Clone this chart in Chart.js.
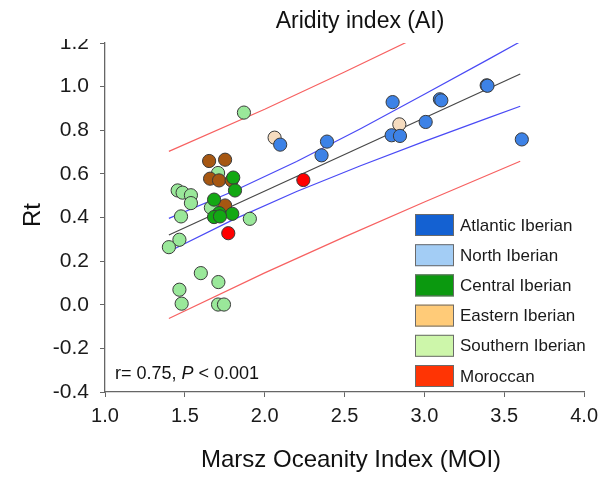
<!DOCTYPE html>
<html>
<head>
<meta charset="utf-8">
<script src="https://cdn.jsdelivr.net/npm/chart.js@4/dist/chart.umd.min.js"></script>
<style>
body{margin:0;background:#fff}
#wrap{width:605px;height:481px}
</style>
</head>
<body>
<div id="wrap"><canvas id="grafico" width="605" height="481"></canvas></div>
<script>
// values
const groups = ["Atlantic Iberian","North Iberian","Central Iberian","Eastern Iberian","Southern Iberian","Moroccan"]
const legendColors = ["#1461d2","#a3cdf5","#0b990f","#ffcb78","#cdf6aa","#ff3404"]
const pointColors = ["#3d82e6","#f6dcbf","#13a813","#a65712","#9ae89a","#ff0000"]

const atlanticX = [2.097,2.390,2.356,2.801,2.795,2.847,3.008,3.097,3.106,3.390,3.395,3.610]
const atlanticY = [0.734,0.748,0.685,0.929,0.777,0.774,0.838,0.942,0.937,1.006,1.004,0.758]
const northX = [2.062,2.843]
const northY = [0.766,0.827]
const centralX = [1.803,1.814,1.683,1.715,1.797,1.683,1.720]
const centralY = [0.583,0.524,0.482,0.420,0.417,0.402,0.405]
const easternX = [1.652,1.752,1.658,1.714,1.793,1.752]
const easternY = [0.659,0.665,0.578,0.570,0.570,0.455]
const southernX = [1.870,1.708,1.455,1.486,1.538,1.538,1.663,1.476,1.907,1.466,1.400,1.600,1.710,1.466,1.480,1.708,1.745]
const southernY = [0.881,0.604,0.524,0.514,0.502,0.466,0.445,0.405,0.394,0.298,0.264,0.145,0.104,0.069,0.005,0.001,0.001]
const moroccoX = [2.242,1.772]
const moroccoY = [0.572,0.328]

const fitX = [1.4,3.6]
const fitY = [0.320,1.058]
const ciX = [1.4,1.8,2.2,2.6,3.0,3.4,3.6]
const ciUpper = [0.396,0.519,0.657,0.807,0.965,1.125,1.206]
const ciLower = [0.244,0.389,0.519,0.637,0.749,0.857,0.910]
const piX = [1.4,2.0,2.5,3.0,3.6]
const piUpper = [0.703,0.896,1.067,1.243,1.458]
const piLower = [-0.063,0.146,0.311,0.471,0.658]

const xTicks = [1.0,1.5,2.0,2.5,3.0,3.5,4.0]
const yTicks = [-0.4,-0.2,0.0,0.2,0.4,0.6,0.8,1.0,1.2]

const FONT = "'Liberation Sans', Arial, sans-serif"

function pts(xs,ys){
return xs.map((x,i)=>({x:x,y:ys[i]}))
}

let groupX = [atlanticX,northX,centralX,easternX,southernX,moroccoX]
let groupY = [atlanticY,northY,centralY,easternY,southernY,moroccoY]

let datasets = []

groups.forEach((g,i)=>{
datasets.push({
label:g,
data:pts(groupX[i],groupY[i]),
backgroundColor:pointColors[i],
borderColor:"#3a3a3a",
borderWidth:1,
pointRadius:6.6,
order:i
})
})

function lineSet(name,xs,ys,color){
return {
label:name,
data:pts(xs,ys),
showLine:true,
borderColor:color,
borderWidth:1.2,
pointRadius:0,
fill:false,
order:20
}
}

datasets.push(lineSet("fit",fitX,fitY,"#474747"))
datasets.push(lineSet("ci upper",ciX,ciUpper,"#4a4af5"))
datasets.push(lineSet("ci lower",ciX,ciLower,"#4a4af5"))
datasets.push(lineSet("pi upper",piX,piUpper,"#f76161"))
datasets.push(lineSet("pi lower",piX,piLower,"#f76161"))

const extras = {
id:"extras",
afterDraw(chart){
let ctx = chart.ctx
ctx.save()

// the top tick label is cut off in the figure
ctx.fillStyle = "#fff"
ctx.fillRect(30,0,70,39)

ctx.fillStyle = "#111"
ctx.textBaseline = "alphabetic"

ctx.font = "23px " + FONT
ctx.textAlign = "center"
ctx.fillText("Aridity index (AI)",360,28)

ctx.font = "24px " + FONT
ctx.fillText("Marsz Oceanity Index (MOI)",351,467)

ctx.save()
ctx.translate(40,215)
ctx.rotate(-Math.PI/2)
ctx.fillText("Rt",0,0)
ctx.restore()

// correlation note
ctx.textAlign = "left"
ctx.font = "18px " + FONT
let x0 = 115, base = 379
let s1 = "r= 0.75, "
ctx.fillText(s1,x0,base)
x0 += ctx.measureText(s1).width
ctx.font = "italic 18px " + FONT
ctx.fillText("P",x0,base)
x0 += ctx.measureText("P ").width
ctx.font = "18px " + FONT
ctx.fillText("< 0.001",x0,base)

// legend boxes
ctx.font = "17px " + FONT
ctx.textBaseline = "middle"
groups.forEach((g,i)=>{
let top = 214 + i*30.2
ctx.fillStyle = legendColors[i]
ctx.fillRect(415,top,39,22)
ctx.strokeStyle = "#6a6a6a"
ctx.lineWidth = 1
ctx.strokeRect(415.5,top+0.5,38,21)
ctx.fillStyle = "#1a1a1a"
ctx.fillText(g,460,top+12)
})

ctx.restore()
}
}

let ctx = document.getElementById("grafico")

new Chart(ctx,{
type:"scatter",
data:{datasets:datasets},
options:{
responsive:false,
animation:false,
events:[],
layout:{padding:{left:0,right:17,top:43,bottom:0}},
plugins:{legend:{display:false},tooltip:{enabled:false},title:{display:false}},
scales:{
x:{
type:"linear",
min:1,max:4,
afterBuildTicks:s=>{s.ticks = xTicks.map(v=>({value:v}))},
afterFit:s=>{s.height = 89},
grid:{display:true,drawOnChartArea:false,drawTicks:true,tickLength:5,color:"#666"},
border:{display:true,color:"#666",width:1.3},
ticks:{
padding:7,
color:"#1a1a1a",
font:{family:FONT,size:20},
maxRotation:0,
callback:v=>Number(v).toFixed(1)
}
},
y:{
type:"linear",
min:-0.4,max:1.2,
afterBuildTicks:s=>{s.ticks = yTicks.map(v=>({value:v}))},
afterFit:s=>{s.width = 105},
grid:{display:true,drawOnChartArea:false,drawTicks:true,tickLength:5,color:"#666"},
border:{display:true,color:"#666",width:1.3},
ticks:{
padding:11,
color:"#1a1a1a",
font:{family:FONT,size:21},
callback:v=>Number(v).toFixed(1)
}
}
}
},
plugins:[extras]
})
</script>
</body>
</html>
